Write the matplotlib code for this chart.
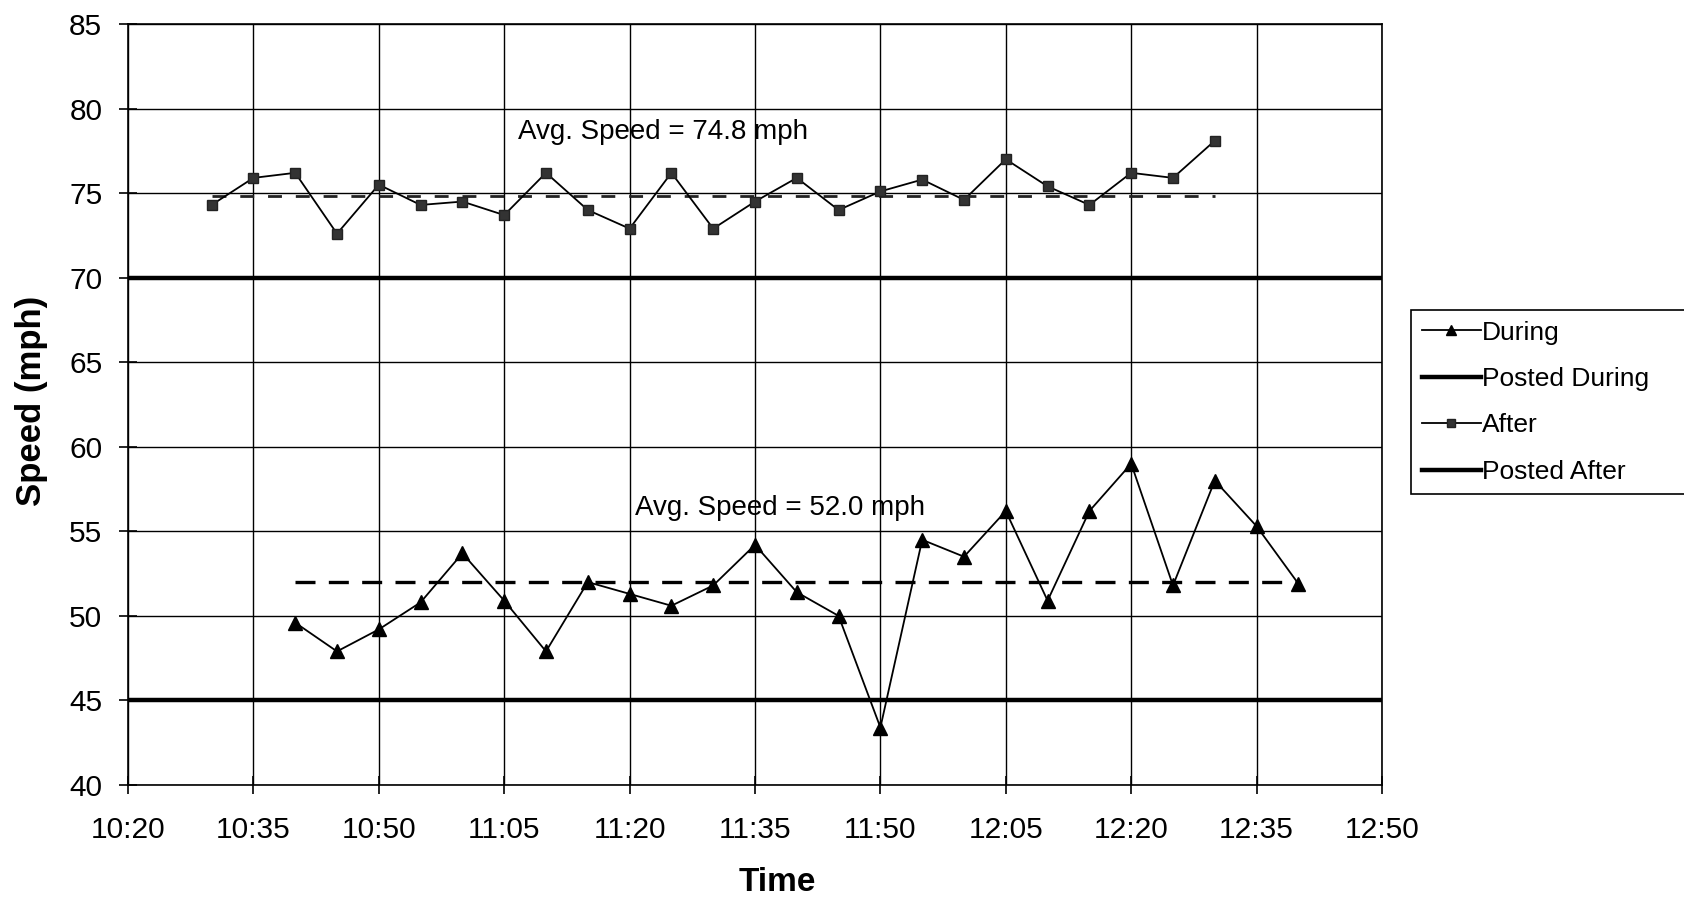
import matplotlib.pyplot as plt
from matplotlib.ticker import FuncFormatter, FixedLocator, MultipleLocator

plt.rcParams['font.family'] = ['Liberation Sans', 'DejaVu Sans']

# speed readings, one every 5 minutes
during_times = ["10:40", "10:45", "10:50", "10:55", "11:00", "11:05", "11:10", "11:15",
                "11:20", "11:25", "11:30", "11:35", "11:40", "11:45", "11:50", "11:55",
                "12:00", "12:05", "12:10", "12:15", "12:20", "12:25", "12:30", "12:35",
                "12:40"]
during_speed = [49.6, 47.9, 49.2, 50.8, 53.7, 50.9, 47.9, 52.0, 51.3, 50.6, 51.8, 54.2,
                51.4, 50.0, 43.4, 54.5, 53.5, 56.2, 50.9, 56.2, 59.0, 51.8, 58.0, 55.3,
                51.9]

after_times = ["10:30", "10:35", "10:40", "10:45", "10:50", "10:55", "11:00", "11:05",
               "11:10", "11:15", "11:20", "11:25", "11:30", "11:35", "11:40", "11:45",
               "11:50", "11:55", "12:00", "12:05", "12:10", "12:15", "12:20", "12:25",
               "12:30"]
after_speed = [74.3, 75.9, 76.2, 72.6, 75.5, 74.3, 74.5, 73.7, 76.2, 74.0, 72.9, 76.2,
               72.9, 74.5, 75.9, 74.0, 75.1, 75.8, 74.6, 77.0, 75.4, 74.3, 76.2, 75.9,
               78.1]

posted_during = 45
posted_after = 70
avg_during = 52.0
avg_after = 74.8

x_ticks = ["10:20", "10:35", "10:50", "11:05", "11:20", "11:35", "11:50", "12:05",
           "12:20", "12:35", "12:50"]


def to_min(t):
    h, m = t.split(":")
    return int(h) * 60 + int(m)


def fmt_time(v, pos):
    v = int(round(v))
    return "%d:%02d" % (v // 60, v % 60)


xd = [to_min(t) for t in during_times]
xa = [to_min(t) for t in after_times]
xt = [to_min(t) for t in x_ticks]
x0, x1 = xt[0], xt[-1]

fig = plt.figure(figsize=(16.84, 9), dpi=100)
ax = fig.add_axes([128 / 1684, 1 - 785 / 900, 1254 / 1684, 761 / 900])

ax.plot(xd, during_speed, color='black', lw=1.3, marker='^', ms=10,
        label='During', zorder=4)
ax.plot([x0, x1], [posted_during] * 2, color='black', lw=3.2,
        label='Posted During', zorder=3)
ax.plot(xa, after_speed, color='black', lw=1.3, marker='s', ms=7, mfc='#333333',
        mec='#222222', label='After', zorder=4)
ax.plot([x0, x1], [posted_after] * 2, color='black', lw=3.2,
        label='Posted After', zorder=3)

# average lines
ax.plot([xd[0], xd[-1]], [avg_during] * 2, color='black', lw=2.4,
        dashes=(6, 4), zorder=2)
ax.plot([xa[0], xa[-1]], [avg_after] * 2, color='#222222', lw=2.0,
        dashes=(5, 5), zorder=2)

ax.text(to_min("11:06") + 0.7, 78.6, "Avg. Speed = %.1f mph" % avg_after,
        fontsize=20, ha='left', va='center', zorder=5)
ax.text(to_min("11:20") + 0.7, 56.4, "Avg. Speed = %.1f mph" % avg_during,
        fontsize=20, ha='left', va='center', zorder=5)

ax.set_xlim(x0, x1)
ax.set_ylim(40, 85)
ax.xaxis.set_major_locator(FixedLocator(xt))
ax.xaxis.set_major_formatter(FuncFormatter(fmt_time))
ax.yaxis.set_major_locator(MultipleLocator(5))

ax.grid(True, color='black', lw=1.0)
ax.set_axisbelow(True)
for s in ax.spines.values():
    s.set_color('black')
    s.set_linewidth(1.2)
ax.tick_params(axis='both', direction='inout', length=13, width=1.2,
               labelsize=21.5, colors='black')
ax.tick_params(axis='x', pad=16)
ax.tick_params(axis='y', pad=12)

ax.set_xlabel("Time", fontsize=24, fontweight='bold')
ax.xaxis.set_label_coords((777 - 128) / 1254, -0.108)
ax.set_ylabel("Speed (mph)", fontsize=25, fontweight='bold')
ax.yaxis.set_label_coords(-0.064, 0.505)

leg = fig.legend(loc='upper left', bbox_to_anchor=(1411 / 1684, 1 - 310 / 900, 0.3, 0),
                 mode='expand', fontsize=19, frameon=True, fancybox=False,
                 edgecolor='black', framealpha=1, handlelength=2.25,
                 handletextpad=0.05, labelspacing=0.85, borderpad=0.4,
                 borderaxespad=0, markerscale=0.75)
leg.get_frame().set_linewidth(1.2)

fig.savefig("out.png", dpi=100)
